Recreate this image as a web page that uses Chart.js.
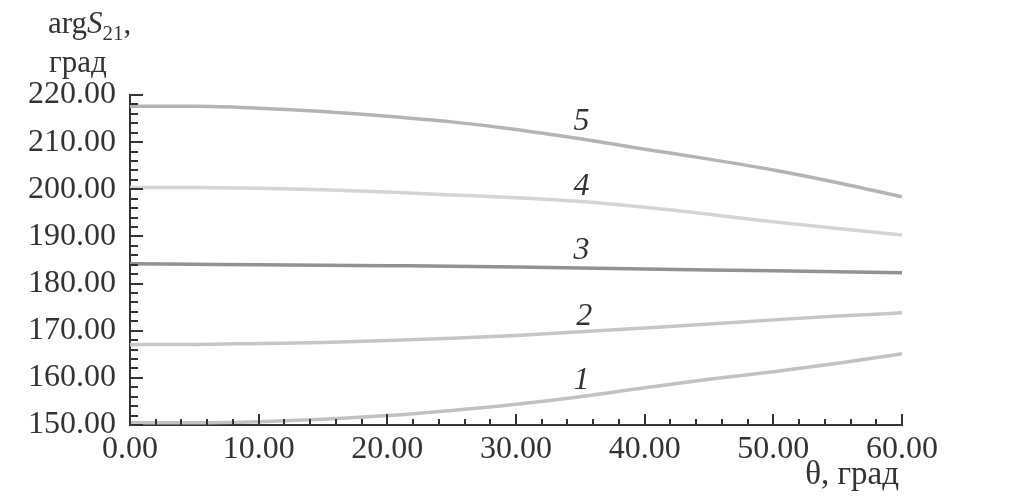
<!DOCTYPE html>
<html>
<head>
<meta charset="utf-8">
<script src="https://cdn.jsdelivr.net/npm/chart.js@4.4.1/dist/chart.umd.min.js"></script>
<style>
  body { margin: 0; background: #fff; }
  canvas { display: block; }
</style>
</head>
<body>
<canvas id="phase_chart" width="1010" height="503"></canvas>
<script>
// angle theta, degrees
const theta = [0, 5, 10, 15, 20, 25, 30, 35, 40, 45, 50, 55, 60];

// argS21, degrees, curves 1..5
const curve1 = [150.5, 150.5, 150.7, 151.2, 152.0, 153.1, 154.4, 156.0, 157.9, 159.7, 161.3, 163.1, 165.1];
const curve2 = [167.1, 167.1, 167.3, 167.5, 167.9, 168.4, 169.0, 169.8, 170.6, 171.4, 172.3, 173.1, 173.8];
const curve3 = [184.2, 184.1, 184.0, 183.9, 183.8, 183.7, 183.5, 183.3, 183.1, 182.9, 182.7, 182.5, 182.3];
const curve4 = [200.4, 200.4, 200.2, 199.9, 199.4, 198.8, 198.2, 197.4, 196.2, 194.7, 193.1, 191.7, 190.3];
const curve5 = [217.6, 217.6, 217.2, 216.5, 215.5, 214.3, 212.7, 210.7, 208.5, 206.4, 204.1, 201.4, 198.4];

const curveNames = ["1", "2", "3", "4", "5"];
const curveColors = ["#c2c2c2", "#c6c6c6", "#929292", "#d4d4d4", "#b4b4b4"];
// where the number of each curve sits (theta, value)
const labelTheta = [35.1, 35.3, 35.1, 35.1, 35.1];
const labelValue = [159.5, 172.9, 187.1, 200.5, 214.3];

const xTitle = "θ, град";
const yTitle = ["arg", "S", "21", ","];
const yUnit = "град";

const ctx = document.getElementById("phase_chart").getContext("2d");
const serif = "'Liberation Serif', 'Times New Roman', serif";
const ink = "#333";

const allCurves = [curve1, curve2, curve3, curve4, curve5];
const datasets = allCurves.map((c, i) => ({
    label: curveNames[i],
    data: c.map((v, k) => ({ x: theta[k], y: v })),
    borderColor: curveColors[i],
    backgroundColor: curveColors[i],
    borderWidth: 3.5,
    pointRadius: 0,
    fill: false,
    cubicInterpolationMode: "monotone"
}));

// inward ticks, curve numbers and axis titles
const decorPlugin = {
    id: "decor",
    afterDraw(chart) {
        const c = chart.ctx;
        const xs = chart.scales.x, ys = chart.scales.y;
        const x0 = xs.left, y0 = ys.bottom;
        c.save();
        c.strokeStyle = ink;
        c.lineWidth = 2;
        c.beginPath();
        for (let v = 0; v <= 60; v += 2) {
            const px = Math.round(xs.getPixelForValue(v));
            const len = v % 10 === 0 ? 11 : 6;
            c.moveTo(px, y0);
            c.lineTo(px, y0 - len);
        }
        for (let v = 150; v <= 220; v += 2) {
            const py = Math.round(ys.getPixelForValue(v));
            const len = v % 10 === 0 ? 13 : 8;
            c.moveTo(x0, py);
            c.lineTo(x0 + len, py);
        }
        c.stroke();

        // curve numbers
        c.fillStyle = ink;
        c.font = "italic 32px " + serif;
        c.textAlign = "center";
        c.textBaseline = "middle";
        curveNames.forEach((n, i) => {
            c.fillText(n, xs.getPixelForValue(labelTheta[i]), ys.getPixelForValue(labelValue[i]));
        });

        // x title
        c.font = "33px " + serif;
        c.textAlign = "right";
        c.textBaseline = "alphabetic";
        c.fillText(xTitle, 899, 484);

        // y title
        c.textAlign = "left";
        let px = 48;
        c.font = "31px " + serif;
        c.fillText(yTitle[0], px, 33);
        px += c.measureText(yTitle[0]).width;
        c.font = "italic 31px " + serif;
        c.fillText(yTitle[1], px, 33);
        px += c.measureText(yTitle[1]).width;
        c.font = "21px " + serif;
        c.fillText(yTitle[2], px, 40);
        px += c.measureText(yTitle[2]).width;
        c.font = "31px " + serif;
        c.fillText(yTitle[3], px, 33);
        c.fillText(yUnit, 49, 72);
        c.restore();
    }
};

new Chart(ctx, {
    type: "line",
    data: { datasets: datasets },
    options: {
        responsive: false,
        animation: false,
        layout: { padding: { top: 95, right: 108, left: 0, bottom: 0 } },
        plugins: { legend: { display: false }, tooltip: { enabled: false } },
        scales: {
            x: {
                type: "linear",
                min: 0,
                max: 60,
                grid: { display: false },
                border: { display: true, color: ink, width: 2 },
                ticks: {
                    stepSize: 10,
                    padding: -3,
                    color: ink,
                    font: { family: serif, size: 32, lineHeight: 1.2 },
                    maxRotation: 0,
                    callback: v => v.toFixed(2)
                },
                afterFit: s => { s.height = 78; }
            },
            y: {
                min: 150,
                max: 220,
                grid: { display: false },
                border: { display: true, color: ink, width: 2 },
                ticks: {
                    stepSize: 10,
                    padding: 6,
                    color: ink,
                    font: { family: serif, size: 32, lineHeight: 1.2 },
                    callback: v => v.toFixed(2)
                },
                afterFit: s => { s.width = 130; }
            }
        }
    },
    plugins: [decorPlugin]
});
</script>
</body>
</html>
